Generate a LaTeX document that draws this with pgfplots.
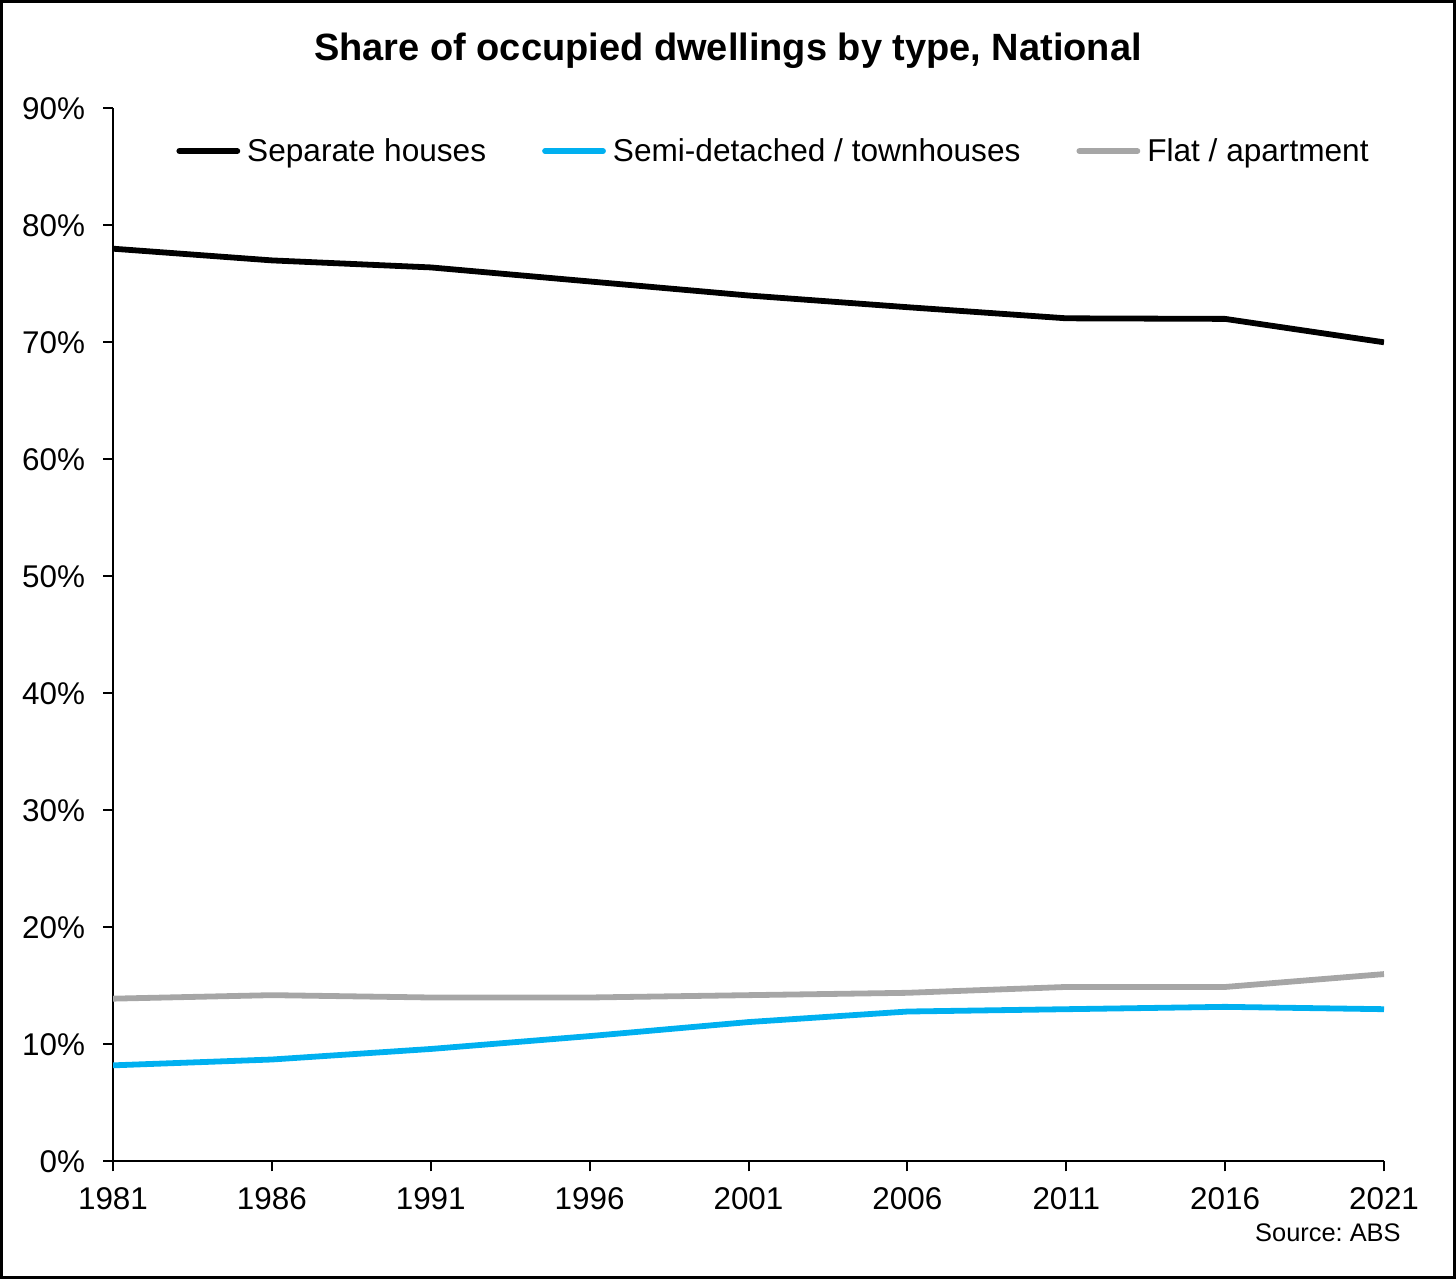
\documentclass[border=0pt]{standalone}
\usepackage{fontspec}
\setmainfont{Liberation Sans}
\usepackage{pgfplots}
\pgfplotsset{compat=1.18}
\definecolor{semiblue}{HTML}{00B0F0}
\definecolor{flatgray}{HTML}{A6A6A6}
\pgfplotstableread{
year sep semi flat
1981 78.0 8.2 13.9
1986 77.0 8.7 14.2
1991 76.4 9.6 14.0
1996 75.2 10.7 14.0
2001 74.0 11.9 14.2
2006 73.0 12.8 14.4
2011 72.05 13.0 14.9
2016 72.0 13.2 14.9
2021 70.0 13.0 16.0
}\dwell
\begin{document}
\frenchspacing
\begin{tikzpicture}
\draw[line width=1.5pt] (0.75pt,0.75pt) rectangle (727.25pt,638.75pt);
\begin{axis}[
  at={(56.5pt,58.85pt)}, anchor=south west,
  scale only axis, width=635.5pt, height=526.5pt,
  xmin=1981, xmax=2021, ymin=0, ymax=90,
  axis x line*=bottom, axis y line*=left,
  axis line style={line width=1pt, black},
  xtick={1981,1986,...,2021}, ytick={0,10,...,90},
  tick align=outside, major tick length=5pt,
  tick style={line width=1pt, black},
  /pgf/number format/assume math mode=true,
  xticklabel style={/pgf/number format/1000 sep={}, yshift=-4.5pt},
  yticklabel style={xshift=-5.5pt},
  yticklabel={\pgfmathprintnumber{\tick}\%},
  tick label style={font=\fontsize{15.7}{18}\selectfont},
  legend columns=3,
  legend image code/.code={\draw[#1,line cap=round] (0pt,0pt) -- (29pt,0pt);},
  legend style={draw=none, fill=none, inner sep=0pt, outer sep=0pt,
    at={(axis description cs:0.0499,0.9594)}, anchor=west,
    font=\fontsize{15.8}{19}\selectfont,
    /tikz/every odd column/.append style={column sep=1.5pt},
    /tikz/every even column/.append style={column sep=26pt}},
  legend cell align=left,
]
\addplot[black, line width=2.9pt, line join=round] table[x=year,y=sep] {\dwell};
\addlegendentry{Separate houses}
\addplot[semiblue, line width=2.9pt, line join=round] table[x=year,y=semi] {\dwell};
\addlegendentry{Semi-detached / townhouses}
\addplot[flatgray, line width=2.9pt, line join=round] table[x=year,y=flat] {\dwell};
\addlegendentry{Flat / apartment}
\end{axis}
\node[font=\bfseries\fontsize{19}{23}\selectfont] at (364pt,614pt) {Share of occupied dwellings by type, National};
\node[anchor=east, inner sep=0pt, font=\fontsize{12.7}{15}\selectfont] at (700.5pt,23.2pt) {Source: ABS};
\pgfresetboundingbox
\path (0,0) rectangle (728pt,639.5pt);
\end{tikzpicture}
\end{document}
